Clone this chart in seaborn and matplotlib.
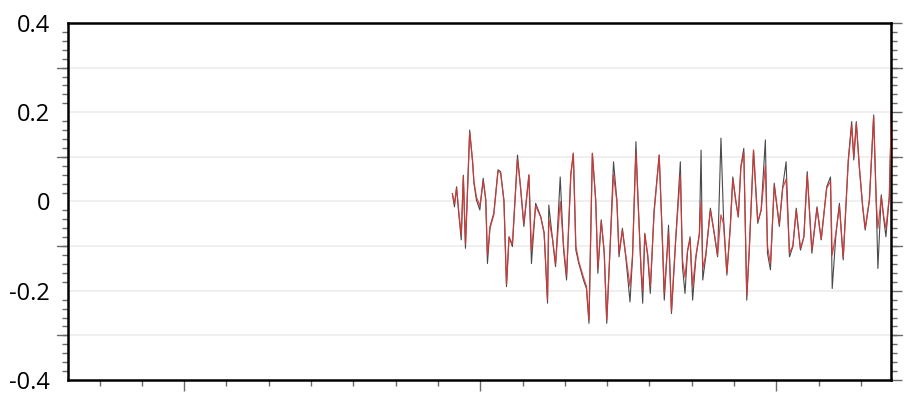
import numpy as np
import pandas as pd
import seaborn as sns
import matplotlib.pyplot as plt
from matplotlib.ticker import MultipleLocator, FixedLocator

# time axis (arbitrary units, minor tick = 10)
t = [63.4, 63.9, 64.4, 64.9, 65.5, 66.0, 66.5, 67.5, 68.2, 68.5,
     69.1, 69.9, 70.7, 71.3, 71.7, 72.3, 73.2, 74.2, 74.8, 75.6,
     76.2, 76.8, 77.6, 78.8, 79.5, 80.3, 81.5, 82.1, 83.1, 84.3,
     85.1, 85.9, 86.2, 87.1, 87.8, 88.9, 89.7, 90.4, 91.4, 92.0,
     92.6, 93.3, 94.4, 95.1, 95.7, 96.5, 97.3, 97.8, 98.6, 99.3,
     99.9, 100.7, 101.5, 102.3, 102.8, 103.6, 104.4, 105.4, 106.0, 106.8,
     107.3, 108.0, 108.4, 108.9, 109.6, 110.2, 111.1, 112.3, 113.1, 113.5,
     114.2, 114.5, 115.2, 116.2, 117.3, 117.8, 118.4, 119.0, 119.6, 120.2,
     121.0, 121.8, 122.2, 122.6, 123.3, 124.4, 125.3, 126.1, 126.9, 127.5,
     128.3, 129.1, 129.7, 130.4, 131.0, 131.6, 132.3, 133.0, 133.6, 134.6,
     135.6, 136.4, 137.4, 137.9, 138.6, 139.5, 140.7, 141.5, 142.3, 143.1,
     143.9, 144.7, 145.7, 146.5, 147.3, 148.4, 149.6, 150.6, 151.9, 152.8,
     153.2, 154.1, 154.9, 155.8, 157.0, 157.8, 158.3, 158.9, 159.6, 160.4,
     161.0, 162.0, 163.0, 163.6, 164.0, 164.8, 165.4, 165.9, 166.7, 167.3]

# raw record (black)
raw = [0.018, -0.012, 0.033, -0.026, -0.086, 0.059, -0.105, 0.160, 0.086, 0.041,
       0.003, -0.019, 0.052, 0.003, -0.139, -0.056, -0.026, 0.071, 0.067, 0.003,
       -0.191, -0.079, -0.101, 0.104, 0.033, -0.056, 0.059, -0.139, -0.004, -0.034,
       -0.071, -0.228, -0.008, -0.086, -0.146, 0.055, -0.109, -0.176, 0.059, 0.108,
       -0.109, -0.139, -0.176, -0.195, -0.273, 0.108, 0.003, -0.161, -0.041, -0.116,
       -0.273, -0.101, 0.089, 0.003, -0.124, -0.060, -0.124, -0.225, -0.124, 0.134,
       0.003, -0.153, -0.228, -0.071, -0.124, -0.206, -0.019, 0.104, -0.101, -0.221,
       -0.109, -0.053, -0.251, -0.086, 0.089, -0.146, -0.206, -0.112, -0.079, -0.221,
       -0.124, -0.071, 0.115, -0.176, -0.124, -0.015, -0.071, -0.124, 0.142, -0.034,
       -0.165, -0.056, 0.055, 0.003, -0.034, 0.078, 0.119, -0.221, -0.109, 0.115,
       -0.049, -0.019, 0.138, -0.116, -0.153, 0.041, -0.056, 0.033, 0.089, -0.124,
       -0.101, -0.015, -0.109, -0.079, 0.067, -0.116, -0.012, -0.086, 0.033, 0.055,
       -0.195, -0.071, -0.004, -0.131, 0.093, 0.179, 0.093, 0.179, 0.078, -0.012,
       -0.064, 0.003, 0.194, 0.003, -0.150, 0.015, -0.041, -0.079, 0.011, 0.240]

# filtered record (red)
smooth = [0.018, -0.005, 0.030, -0.020, -0.075, 0.055, -0.095, 0.155, 0.090, 0.045,
          0.010, -0.010, 0.045, 0.005, -0.120, -0.060, -0.030, 0.068, 0.065, 0.000,
          -0.185, -0.080, -0.095, 0.095, 0.035, -0.050, 0.060, -0.110, -0.010, -0.035,
          -0.070, -0.220, -0.040, -0.085, -0.140, 0.000, -0.100, -0.165, 0.060, 0.108,
          -0.100, -0.135, -0.170, -0.190, -0.265, 0.108, 0.000, -0.150, -0.045, -0.110,
          -0.265, -0.100, 0.060, 0.000, -0.115, -0.065, -0.120, -0.190, -0.120, 0.110,
          0.000, -0.150, -0.200, -0.075, -0.120, -0.190, -0.025, 0.104, -0.095, -0.205,
          -0.110, -0.070, -0.245, -0.085, 0.060, -0.130, -0.170, -0.110, -0.085, -0.190,
          -0.120, -0.075, 0.000, -0.150, -0.120, -0.020, -0.070, -0.120, -0.030, -0.050,
          -0.160, -0.060, 0.050, 0.000, -0.035, 0.075, 0.110, -0.210, -0.105, 0.115,
          -0.045, -0.020, 0.080, -0.100, -0.140, 0.035, -0.050, 0.030, 0.050, -0.115,
          -0.100, -0.020, -0.105, -0.080, 0.060, -0.110, -0.015, -0.085, 0.030, 0.045,
          -0.120, -0.070, -0.010, -0.125, 0.090, 0.170, 0.100, 0.175, 0.080, -0.010,
          -0.060, 0.005, 0.190, 0.000, -0.060, 0.010, -0.035, -0.060, 0.010, 0.240]

y_ticks = [-0.4, -0.2, 0, 0.2, 0.4]
y_labels = ["-0.4", "-0.2", "0", "0.2", "0.4"]

df = pd.DataFrame({"t": t, "raw": raw, "smooth": smooth})

sns.set_style("white")
plt.rcParams['font.family'] = ['Open Sans', 'DejaVu Sans']

fig = plt.figure(figsize=(9.05, 3.94), dpi=100)
ax = fig.add_axes([68 / 905, 1 - 380 / 394, (891 - 68) / 905, (380 - 23) / 394])

# horizontal grid
for g in np.arange(-0.3, 0.35, 0.1):
    ax.axhline(g, color="#ececec", lw=1.2, zorder=0)

sns.lineplot(data=df, x="t", y="raw", ax=ax, color="#2a2a2a", lw=0.8,
             alpha=0.85, estimator=None, sort=False, zorder=2)
sns.lineplot(data=df, x="t", y="smooth", ax=ax, color="#d23a3a", lw=0.9,
             alpha=0.9, estimator=None, sort=False, zorder=3)

ax.set_xlim(-27.46, 167.1)
ax.set_ylim(-0.4, 0.4)
ax.set_xlabel("")
ax.set_ylabel("")

ax.yaxis.set_major_locator(FixedLocator(y_ticks))
ax.set_yticklabels(y_labels)
ax.yaxis.set_minor_locator(MultipleLocator(0.02))
ax.xaxis.set_major_locator(MultipleLocator(70))
ax.xaxis.set_minor_locator(MultipleLocator(10))

ax.tick_params(axis="both", which="both", direction="out", color="#6a6a6a", width=1.0)
ax.tick_params(axis="y", which="major", length=8, labelsize=17, labelcolor="black",
               pad=5, right=True)
ax.tick_params(axis="y", which="minor", length=4, left=True, right=True)
ax.tick_params(axis="x", which="major", length=8, labelbottom=False, bottom=True)
ax.tick_params(axis="x", which="minor", length=4, bottom=True)

# 0.1 steps get a longer tick too
for yy in [-0.3, -0.1, 0.1, 0.3]:
    ax.plot([0, -0.013], [yy, yy], transform=ax.get_yaxis_transform(), color="#6a6a6a",
            lw=1.0, clip_on=False)
    ax.plot([1, 1.013], [yy, yy], transform=ax.get_yaxis_transform(), color="#6a6a6a",
            lw=1.0, clip_on=False)

for s in ax.spines.values():
    s.set_color("black")
    s.set_linewidth(1.8)

fig.savefig("out.png", dpi=100)
